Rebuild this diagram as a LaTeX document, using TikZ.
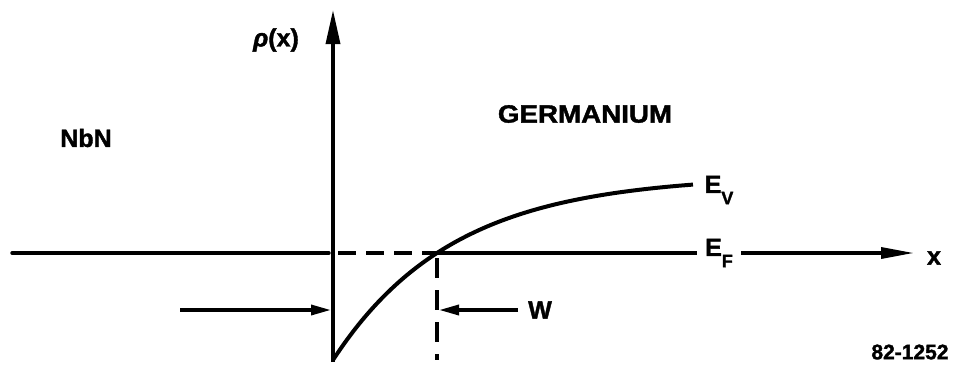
\documentclass[tikz,border=0pt]{standalone}
\usepackage{fontspec}
\setmainfont{Liberation Sans}[BoldFeatures={FakeBold=1.5},BoldItalicFeatures={FakeBold=1.5}]
\usetikzlibrary{arrows.meta}
\begin{document}
\begin{tikzpicture}[x=1pt,y=-1pt,
  lbl/.style={font=\fontsize{25}{28}\selectfont\bfseries, inner sep=0pt},
  ln/.style={line width=3.4pt},
  bigtip/.style={-{Triangle[length=34pt,width=14pt]}},
  xtip/.style={-{Triangle[length=33pt,width=11pt]}},
  smalltip/.style={-{Triangle[length=20pt,width=10pt]}},
  dsh/.style={line width=3.4pt, dash pattern=on 18pt off 10pt}]
\useasboundingbox (0,0) rectangle (954,370);
% axis
\coordinate (ybot) at (333,362);
\coordinate (ytop) at (333,10);
\draw[ln,bigtip] (ybot) -- (ytop);
\node[lbl] (rho) at (276,40) {{\itshape ρ}(x)};
% horizontal line
\coordinate (hl) at (12,253);
\coordinate (hlaxis) at (329,253);
\coordinate (dstart) at (338,253);
\coordinate (cross) at (437,253);
\coordinate (efl) at (697,253);
\node[lbl] (EF) at (719,253) {E\raisebox{-0.45em}{\fontsize{18}{20}\selectfont F}};
\coordinate (efr) at (741,253);
\coordinate (xtipc) at (914,253);
\node[lbl] (xlab) at (934,258) {x};
\draw[ln,line cap=round] (hl) -- (hlaxis);
\draw[dsh] (dstart) -- (cross);
\draw[ln] (cross) -- (efl);
\draw[ln,xtip] (efr) -- (xtipc);
% curve
\draw[line width=4pt] plot[domain=0:360,samples=80,smooth] ({333+\x},{175.4+184.6*exp(-\x/120)});
\node[lbl] (EV) at (719,190) {E\raisebox{-0.45em}{\fontsize{18}{20}\selectfont V}};
% dashed vertical
\coordinate (vd1) at (437,258);
\coordinate (vd2) at (437,360);
\draw[line width=3.4pt, dash pattern=on 20pt off 12pt] (vd1) -- (vd2);
% width arrows
\coordinate (la) at (180,310);
\coordinate (lat) at (331,310);
\draw[ln,smalltip] (la) -- (lat);
\node[lbl] (W) at (540,310) {W};
\coordinate (ra) at (518,310);
\coordinate (rat) at (439,310);
\draw[ln,smalltip] (ra) -- (rat);
% labels
\node[lbl] (nbn) at (86,138) {NbN};
\node[lbl] (ge) at (585,114) {\scalebox{1.11}[1]{GERMANIUM}};
\node[inner sep=0pt,font=\fontsize{21}{24}\selectfont\bfseries] (num) at (910,352) {82-1252};
\end{tikzpicture}
\end{document}
